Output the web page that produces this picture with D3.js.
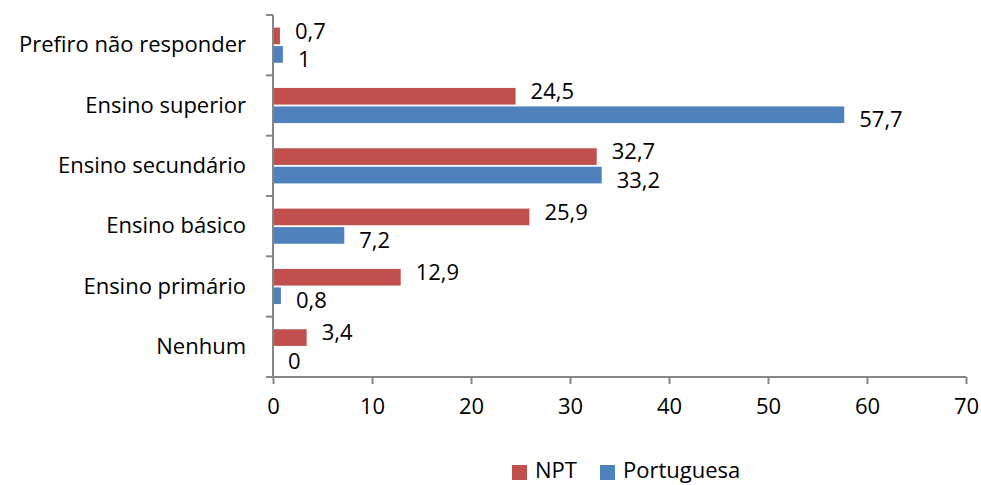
<!DOCTYPE html>
<html>
<head>
<meta charset="utf-8">
<script src="https://cdn.jsdelivr.net/npm/d3@7"></script>
<style>
  body { margin: 0; background: #fff; }
  text { font-family: "Open Sans", "Noto Sans", sans-serif; fill: #000; }
</style>
</head>
<body>
<script>
// Chart data
let categories = ['Prefiro não responder', 'Ensino superior', 'Ensino secundário', 'Ensino básico', 'Ensino primário', 'Nenhum'];
let seriesNames = ['NPT', 'Portuguesa'];
let nptValues = [0.7, 24.5, 32.7, 25.9, 12.9, 3.4];
let portValues = [1, 57.7, 33.2, 7.2, 0.8, 0];
let xTicks = [0, 10, 20, 30, 40, 50, 60, 70];
let colors = ['#C0504D', '#4F81BD'];

let width = 981, height = 485;
let margin = {top: 15, right: 15, bottom: 108, left: 273};
let fontSize = '22px';

let svg = d3.select('body').append('svg')
    .attr('width', width)
    .attr('height', height);

let x = d3.scaleLinear()
    .domain([0, 70])
    .range([margin.left, 966]);

let y = d3.scaleBand()
    .domain(categories)
    .range([margin.top, 377])
    .paddingInner(0)
    .paddingOuter(0);

let inner = d3.scaleBand()
    .domain(seriesNames)
    .range([0, y.bandwidth()])
    .paddingInner(0.1)
    .paddingOuter(0.68);

let data = categories.map((c, i) => ({
    cat: c,
    vals: [nptValues[i], portValues[i]]
}));

// Bars
let groups = svg.selectAll('.cat')
    .data(data)
    .enter().append('g')
    .attr('class', 'cat')
    .attr('transform', d => `translate(0, ${y(d.cat)})`);

seriesNames.forEach((s, si) => {
    groups.append('rect')
        .attr('x', x(0))
        .attr('y', inner(s))
        .attr('width', d => x(d.vals[si]) - x(0))
        .attr('height', inner.bandwidth())
        .attr('fill', colors[si]);

    groups.append('text')
        .attr('x', d => x(d.vals[si]) + 15)
        .attr('y', inner(s) + inner.bandwidth() / 2 + (si === 0 ? -5 : 5))
        .attr('dy', '0.35em')
        .style('font-size', fontSize)
        .text(d => String(d.vals[si]).replace('.', ','));
});

// Axes
let axisColor = '#868686';

let xAxis = svg.append('g')
    .attr('transform', `translate(0, 377)`)
    .call(d3.axisBottom(x).tickValues(xTicks).tickSize(7).tickPadding(14));
xAxis.selectAll('text').style('font-size', fontSize).attr('fill', '#000');

let yAxis = svg.append('g')
    .attr('transform', `translate(${x(0)}, 0)`)
    .call(d3.axisLeft(y).tickSize(0).tickPadding(27));
yAxis.selectAll('text').style('font-size', fontSize).attr('fill', '#000');

// Category boundary ticks
let bounds = categories.map(c => y(c)).concat([y.range()[1]]);
yAxis.selectAll('.bound')
    .data(bounds)
    .enter().append('line')
    .attr('class', 'bound')
    .attr('x1', -7).attr('x2', 0)
    .attr('y1', d => d).attr('y2', d => d)
    .attr('stroke', axisColor).attr('stroke-width', 2);

[xAxis, yAxis].forEach(a => {
    a.select('.domain').attr('stroke', axisColor).attr('stroke-width', 2);
    a.selectAll('.tick line').attr('stroke', axisColor).attr('stroke-width', 2);
});
yAxis.select('.domain').attr('d', `M0,${margin.top}V377`);
xAxis.select('.domain').attr('d', `M${x(0)},0H${x(70)}`);

// Legend
let legendX = [512, 600];
let legend = svg.append('g');
seriesNames.forEach((s, i) => {
    legend.append('rect')
        .attr('x', legendX[i]).attr('y', 465)
        .attr('width', 15).attr('height', 15)
        .attr('fill', colors[i]);
    legend.append('text')
        .attr('x', legendX[i] + 23).attr('y', 470)
        .attr('dy', '0.35em')
        .style('font-size', fontSize)
        .text(s);
});
</script>
</body>
</html>
